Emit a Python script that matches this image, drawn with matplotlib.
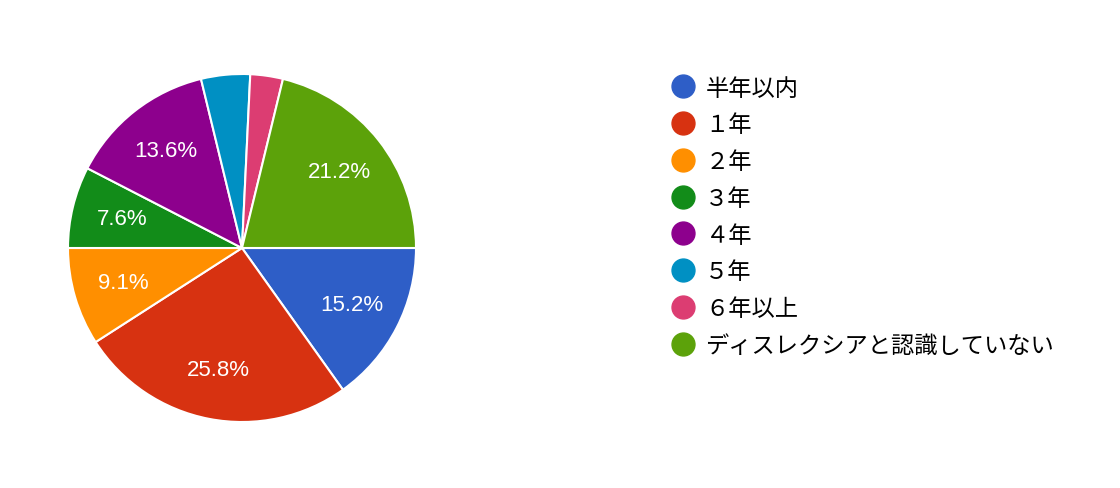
import matplotlib
matplotlib.use('Agg')
import matplotlib.pyplot as plt
from matplotlib.lines import Line2D

plt.rcParams['font.family'] = ['Noto Sans CJK JP', 'DejaVu Sans']

labels = ['半年以内', '１年', '２年', '３年', '４年', '５年', '６年以上', 'ディスレクシアと認識していない']
counts = [10, 17, 6, 5, 9, 3, 2, 14]
colors = ['#2e5ec7', '#d73211', '#ff8f00', '#128c19', '#8d008d', '#0090c3', '#dc3d72', '#5ca20a']

fig = plt.figure(figsize=(11.2, 4.89), dpi=100)
# pie area in pixels: x 68-416, y 75-423
ax = fig.add_axes([68/1120, (489-423)/489, 348/1120, 348/489])

def pct(p):
    return '%.1f%%' % p if p > 5 else ''

wedges, texts, autotexts = ax.pie(counts, colors=colors, startangle=0, counterclock=False,
                                  autopct=pct, pctdistance=0.71,
                                  wedgeprops=dict(edgecolor='white', linewidth=1.5),
                                  textprops=dict(color='white', fontsize=16, family=['Liberation Sans']))
ax.set_xlim(-1.0, 1.0)
ax.set_ylim(-1.0, 1.0)

handles = [Line2D([], [], marker='o', linestyle='', markersize=16.5, markerfacecolor=c,
                  markeredgecolor=c) for c in colors]
fig.legend(handles, labels, loc='upper left', bbox_to_anchor=(660/1120, 1 - 66/489),
           frameon=False, fontsize=16.75, labelspacing=0.59, handletextpad=0.45,
           handlelength=1.0, borderpad=0)

fig.savefig('out.png', dpi=100)
